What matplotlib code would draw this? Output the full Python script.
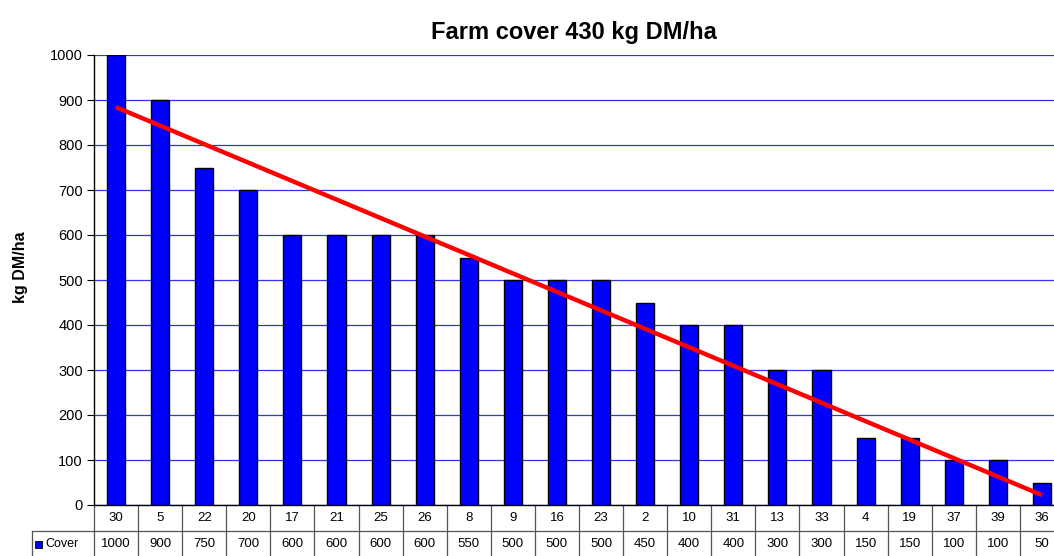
import matplotlib.pyplot as plt
import matplotlib.transforms as mtransforms
import matplotlib.patches as patches
import numpy as np

plt.rcParams['font.family'] = ['Liberation Sans', 'DejaVu Sans']

paddocks = ['30', '5', '22', '20', '17', '21', '25', '26', '8', '9', '16',
            '23', '2', '10', '31', '13', '33', '4', '19', '37', '39', '36']
cover = [1000, 900, 750, 700, 600, 600, 600, 600, 550, 500, 500,
         500, 450, 400, 400, 300, 300, 150, 150, 100, 100, 50]
# trendline end values
trend_ends = [884, 22]
series_name = 'Cover'
title = 'Farm cover 430 kg DM/ha'

fig = plt.figure(figsize=(10.54, 5.56), dpi=100)
# right edge of the plot runs a bit past the picture (cropped in the original)
ax = fig.add_axes([94/1054, 51/556, 970/1054, 450/556])

x = np.arange(len(cover))
ax.bar(x, cover, width=0.41, color='#0000ff', edgecolor='black', linewidth=1, zorder=3)

ax.plot([x[0], x[-1]], trend_ends, color='red', linewidth=3.2, zorder=4, solid_capstyle='butt')

ax.set_xlim(-0.5, len(cover) - 0.5)
ax.set_ylim(0, 1000)
ax.set_yticks(range(0, 1001, 100))
ax.tick_params(axis='y', labelsize=10.5, length=5, direction='out', pad=3)
ax.set_xticks([])
ax.yaxis.grid(True, color='#3333ee', linewidth=0.9, zorder=0)
for s in ['top', 'right']:
    ax.spines[s].set_visible(False)
ax.spines['left'].set_linewidth(1)
ax.spines['bottom'].set_linewidth(1)

fig.text(21/1054, 1 - 267/556, 'kg DM/ha', rotation=90, ha='center', va='center',
         fontsize=11.5, fontweight='bold')
fig.text(574/1054, 1 - 32/556, title, ha='center', va='center', fontsize=17, fontweight='bold')

# data table under the axes
tr = mtransforms.blended_transform_factory(ax.transData, ax.transAxes)
rh = 26/450
lc = '#555555'
n = len(cover)
for i in range(n + 1):
    ax.plot([i - 0.5, i - 0.5], [0, -2*rh], transform=tr, color=lc, lw=0.9, clip_on=False)
ax.plot([-0.5, n - 0.5], [-rh, -rh], transform=tr, color=lc, lw=0.9, clip_on=False)
ax.plot([-0.5, n - 0.5], [-2*rh, -2*rh], transform=tr, color=lc, lw=0.9, clip_on=False)
for i in range(n):
    ax.text(i, -rh/2, paddocks[i], transform=tr, ha='center', va='center', fontsize=9.5)
    ax.text(i, -1.5*rh, str(cover[i]), transform=tr, ha='center', va='center', fontsize=9.5)

# header cell for the series
hx0 = (32 - 94)/970
ta = ax.transAxes
ax.plot([hx0, 0], [-rh, -rh], transform=ta, color=lc, lw=0.9, clip_on=False)
ax.plot([hx0, 0], [-2*rh, -2*rh], transform=ta, color=lc, lw=0.9, clip_on=False)
ax.plot([hx0, hx0], [-rh, -2*rh], transform=ta, color=lc, lw=0.9, clip_on=False)
sq = patches.Rectangle((hx0 + 3/970, -1.5*rh - 3.5/450), 7/970, 7/450, transform=ta,
                       facecolor='#0000ff', edgecolor='black', lw=0.6, clip_on=False)
ax.add_patch(sq)
ax.text(hx0 + 13/970, -1.5*rh, series_name, transform=ta, ha='left', va='center', fontsize=9)

fig.savefig('out.png', dpi=100)
